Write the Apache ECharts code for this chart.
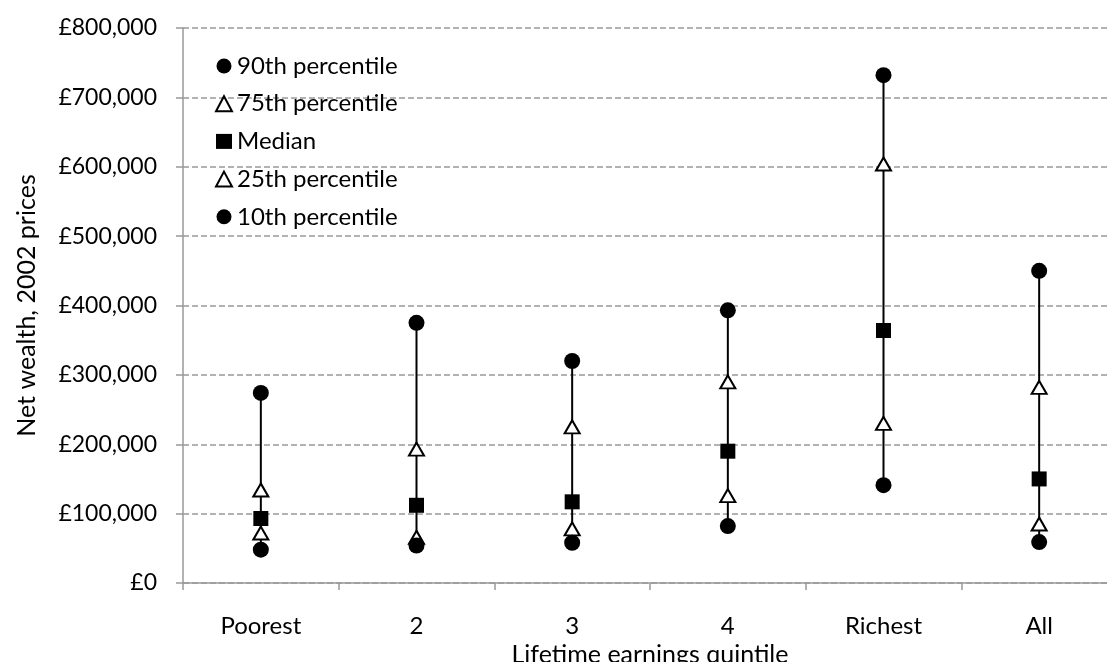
<!DOCTYPE html>
<html>
<head>
<meta charset="utf-8">
<script src="https://cdn.jsdelivr.net/npm/echarts@6/dist/echarts.min.js"></script>
<style>
html,body{margin:0;padding:0;background:#fff;}
#chart{width:1107px;height:662px;}
</style>
</head>
<body>
<div id="chart"></div>
<script>
const categories = ['Poorest', '2', '3', '4', 'Richest', 'All'];
const p90 = [274000, 375000, 320000, 393000, 732000, 450000];
const p75 = [134000, 193000, 225000, 290000, 604000, 282000];
const median = [93000, 112000, 117000, 190000, 364000, 150000];
const p25 = [72000, 66000, 78000, 126000, 230000, 85000];
const p10 = [48000, 54000, 58000, 82000, 141000, 59000];
const seriesNames = ['90th percentile', '75th percentile', 'Median', '25th percentile', '10th percentile'];

const FONT = 'Lato';
const chart = echarts.init(document.getElementById('chart'), null, {renderer: 'canvas'});

const rangeData = categories.map((c, i) => [i, p10[i], p90[i]]);

function fmt(v) {
  if (v === 0) return '£0';
  return '£' + v.toLocaleString('en-GB');
}

const circleStyle = {color: '#000', opacity: 1};
const triStyle = {color: '#fff', borderColor: '#000', borderWidth: 2, opacity: 1};

chart.setOption({
  animation: false,
  backgroundColor: '#fff',
  textStyle: {fontFamily: FONT, color: '#000'},
  grid: {left: 183, right: -10, top: 28, bottom: 79, containLabel: false, outerBoundsMode: 'none'},
  legend: {
    orient: 'vertical',
    left: 215,
    top: 54,
    padding: 0,
    itemWidth: 16,
    itemHeight: 15,
    itemGap: 13.7,
    data: seriesNames,
    textStyle: {fontFamily: FONT, fontSize: 24, color: '#000', lineHeight: 24}
  },
  xAxis: {
    type: 'category',
    data: categories,
    boundaryGap: true,
    axisLine: {lineStyle: {color: '#999', width: 1.5}},
    axisTick: {show: true, length: 7, lineStyle: {color: '#999', width: 1.5}},
    axisLabel: {fontFamily: FONT, fontSize: 24, color: '#000', margin: 31},
    name: 'Lifetime earnings quintile',
    nameLocation: 'middle',
    nameGap: 54,
    nameTextStyle: {fontFamily: FONT, fontSize: 25, color: '#000'}
  },
  yAxis: {
    type: 'value',
    min: 0,
    max: 800000,
    interval: 100000,
    axisLine: {show: true, lineStyle: {color: '#999', width: 1.5}},
    axisTick: {show: true, length: 7, inside: false, lineStyle: {color: '#999', width: 1.5}},
    axisLabel: {fontFamily: FONT, fontSize: 23, color: '#000', margin: 26, formatter: fmt},
    splitLine: {show: true, lineStyle: {color: '#999', width: 1.5, type: [6, 3]}},
    name: 'Net wealth, 2002 prices',
    nameLocation: 'middle',
    nameGap: 144,
    nameTextStyle: {fontFamily: FONT, fontSize: 25, color: '#000'}
  },
  series: [
    {
      type: 'custom',
      name: 'range',
      z: 1,
      data: rangeData,
      encode: {x: 0, y: [1, 2]},
      renderItem: function (params, api) {
        const i = api.value(0);
        const lo = api.coord([i, api.value(1)]);
        const hi = api.coord([i, api.value(2)]);
        return {
          type: 'line',
          shape: {x1: lo[0], y1: lo[1], x2: hi[0], y2: hi[1]},
          style: {stroke: '#000', lineWidth: 2}
        };
      }
    },
    {name: seriesNames[0], type: 'scatter', z: 3, symbol: 'circle', symbolSize: 16, itemStyle: circleStyle, data: p90},
    {name: seriesNames[1], type: 'scatter', z: 3, symbol: 'triangle', symbolSize: [15, 13], itemStyle: triStyle, data: p75},
    {name: seriesNames[2], type: 'scatter', z: 3, symbol: 'rect', symbolSize: 15, itemStyle: circleStyle, data: median},
    {name: seriesNames[3], type: 'scatter', z: 3, symbol: 'triangle', symbolSize: [15, 13], itemStyle: triStyle, data: p25},
    {name: seriesNames[4], type: 'scatter', z: 3, symbol: 'circle', symbolSize: 16, itemStyle: circleStyle, data: p10}
  ]
});
</script>
</body>
</html>
